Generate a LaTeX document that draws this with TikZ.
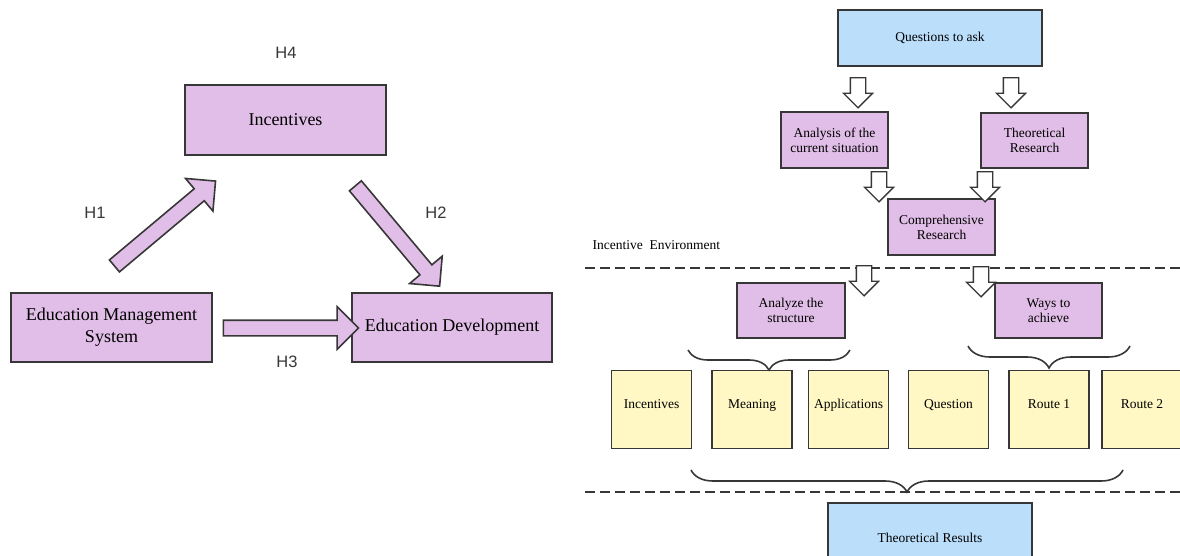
\documentclass[tikz,border=0pt]{standalone}
\usepackage{fontspec}
\setmainfont{Liberation Serif}
\newfontfamily\hfont{Liberation Sans}
\usetikzlibrary{shapes.arrows,decorations.pathreplacing}

\definecolor{boxpurple}{RGB}{225,190,231}
\definecolor{boxyellow}{RGB}{255,248,196}
\definecolor{boxblue}{RGB}{187,222,251}
\definecolor{linegray}{RGB}{55,55,55}

\tikzset{
  box/.style={draw=linegray, line width=1.6pt, align=center, inner sep=1pt},
  pbox/.style={box, fill=boxpurple},
  ybox/.style={box, fill=boxyellow, minimum width=80, minimum height=78,
    text height=10pt, text depth=12pt},
  bbox/.style={box, fill=boxblue},
  bigtext/.style={font=\fontsize{18}{22}\selectfont},
  smalltext/.style={font=\fontsize{13.5}{15}\selectfont},
  hlabel/.style={font=\hfont\fontsize{16.5}{18}\selectfont, text=linegray},
  fatarrow/.style={single arrow, draw=linegray, line width=1.6pt, fill=boxpurple,
    inner sep=7pt, single arrow head extend=13.5pt},
  hollowarrow/.style={single arrow, draw=linegray, line width=1.3pt, fill=white,
    shape border rotate=270, inner sep=7pt, minimum height=30,
    single arrow head extend=7pt},
  dashline/.style={draw=linegray, line width=1.8pt, dash pattern=on 10pt off 5pt},
  bracedown/.style={draw=linegray, line width=1.6pt,
    decorate, decoration={brace, mirror, amplitude=#1}}
}

\begin{document}
\begin{tikzpicture}[x=1pt,y=-1pt]
\useasboundingbox (0,0) rectangle (1180,555);

% hypothesis model
\node[pbox, bigtext, minimum width=201, minimum height=70] (Inc) at (285.5,120) {Incentives};
\node[pbox, bigtext, minimum width=201, minimum height=69] (EMS) at (111.5,327.5) {Education Management\\System};
\node[pbox, bigtext, minimum width=200, minimum height=69] (EDev) at (452,327.5) {Education Development};
\node[hlabel] (H4) at (286,53) {H4};
\node[hlabel] (H1) at (95,213) {H1};
\node[hlabel] (H2) at (436,213) {H2};
\node[hlabel] (H3) at (287,362) {H3};
\node[fatarrow, minimum height=132, rotate=40] (A1) at (162,226) {};
\node[fatarrow, minimum height=131, rotate=-50] (A2) at (395,233) {};
\node[fatarrow, minimum height=135] (A3) at (287,328) {};

% research framework
\coordinate (d1l) at (585,268);
\coordinate (d1r) at (1180,268);
\coordinate (d2l) at (585,492);
\coordinate (d2r) at (1180,492);
\draw[dashline] (d1l) -- (d1r);
\draw[dashline] (d2l) -- (d2r);
\node[smalltext, anchor=west] (Env) at (589,245) {Incentive~ Environment};

\node[bbox, smalltext, minimum width=204, minimum height=56] (Ask) at (940,38) {Questions to ask};
\node[pbox, smalltext, minimum width=107, minimum height=56] (Ana) at (834.5,140) {Analysis of the\\current situation};
\node[pbox, smalltext, minimum width=107, minimum height=55] (Theo) at (1034.5,140.5) {Theoretical\\Research};
\node[pbox, smalltext, minimum width=107, minimum height=56] (Comp) at (941.5,227) {Comprehensive\\Research};
\node[pbox, smalltext, minimum width=108, minimum height=55] (Struc) at (791,310.5) {Analyze the\\structure};
\node[pbox, smalltext, minimum width=107, minimum height=55] (Ways) at (1048.5,310.5) {Ways to\\achieve};

\node[hollowarrow] (q1) at (858,89) {};
\node[hollowarrow] (q2) at (1011,89) {};
\node[hollowarrow] (c1) at (879,183) {};
\node[hollowarrow] (c2) at (985,183) {};
\node[hollowarrow] (s1) at (864,277) {};
\node[hollowarrow] (s2) at (981,278) {};

\node[ybox, smalltext] (YInc) at (651.5,409.5) {Incentives};
\node[ybox, smalltext] (YMea) at (752,409.5) {Meaning};
\node[ybox, smalltext] (YApp) at (848.5,409.5) {Applications};
\node[ybox, smalltext] (YQue) at (948.5,409.5) {Question};
\node[ybox, smalltext] (YR1) at (1049,409.5) {Route 1};
\node[ybox, smalltext] (YR2) at (1142,409.5) {Route 2};

\coordinate (b1l) at (688,350);
\coordinate (b1r) at (850,350);
\coordinate (b2l) at (968,346);
\coordinate (b2r) at (1130,346);
\coordinate (b3l) at (691,470);
\coordinate (b3r) at (1123,470);
\draw[bracedown=20] (b1l) -- (b1r);
\draw[bracedown=22] (b2l) -- (b2r);
\draw[bracedown=22] (b3l) -- (b3r);

\node[bbox, smalltext, minimum width=204, minimum height=70] (Res) at (930,538) {Theoretical Results};
\end{tikzpicture}
\end{document}
